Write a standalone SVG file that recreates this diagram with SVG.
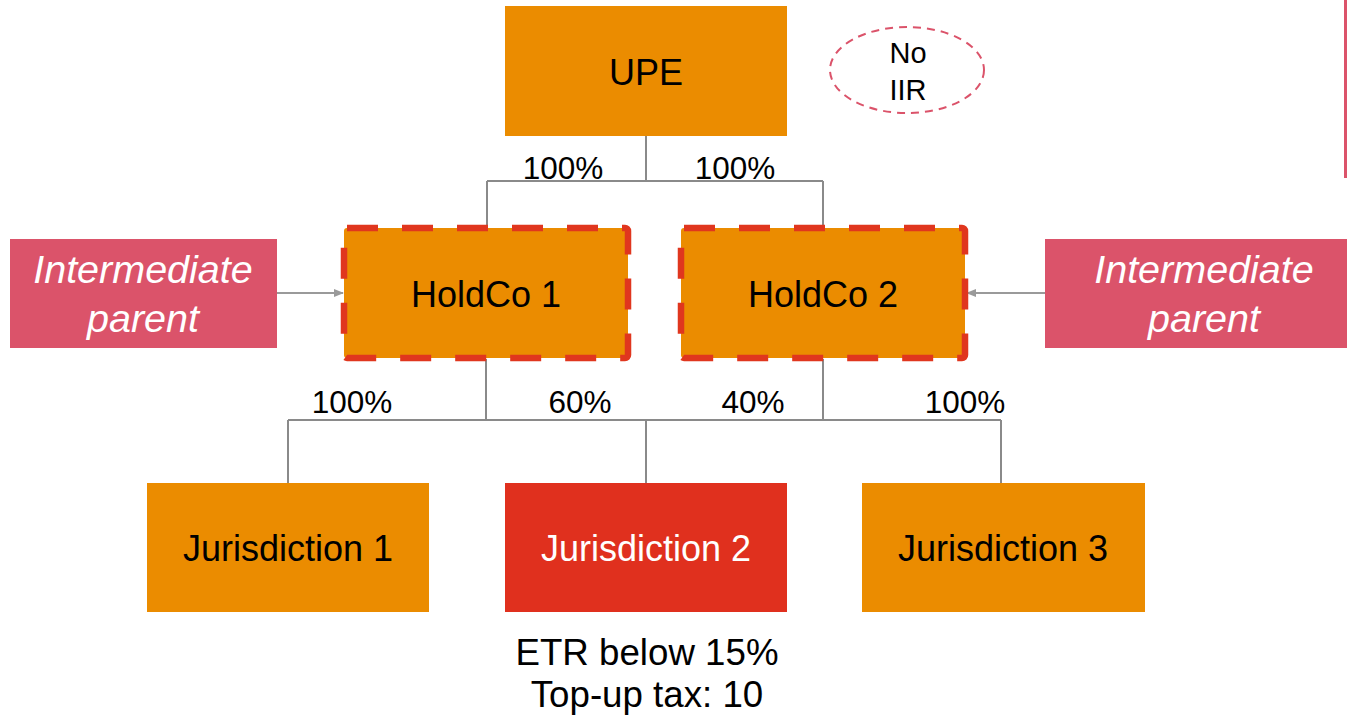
<svg xmlns="http://www.w3.org/2000/svg" width="1347" height="717" viewBox="0 0 1347 717">
<style>
text{font-family:"Liberation Sans",Arial,sans-serif;}
.box{fill:#EB8C00;}
.lbl{font-size:36px;fill:#000;text-anchor:middle;}
.pct{font-size:31.5px;fill:#000;text-anchor:middle;}
.hold{fill:#EB8C00;stroke:#E0361E;stroke-width:6.5;stroke-dasharray:31 24;}
.ip{fill:#DB536A;}
.ipt{font-size:39.5px;fill:#fff;font-style:italic;text-anchor:middle;}
.conn{fill:none;stroke:#8a8a8a;stroke-width:2;}
.arr{fill:none;stroke:#9a9a9a;stroke-width:1.8;marker-end:url(#ah);}
</style>
<defs>
<marker id="ah" markerWidth="10" markerHeight="8" refX="9" refY="4" orient="auto" markerUnits="userSpaceOnUse">
<path d="M0,0 L10,4 L0,8 Z" fill="#9a9a9a"/>
</marker>
</defs>
<rect width="1347" height="717" fill="#fff"/>
<g id="connectors">
<path class="conn" d="M646,136 V181 M487,181 H823 M487,181 V228 M823,181 V228"/>
<path class="conn" d="M486,359 V420 M823,359 V420 M288,420 H1001 M288,420 V483 M646,420 V483 M1001,420 V483"/>
<path class="arr" d="M277,293 H343"/>
<path class="arr" d="M1045,293 H967"/>
</g>
<g id="upe">
<rect class="box" x="505" y="6" width="282" height="130"/>
<text class="lbl" x="646" y="85">UPE</text>
</g>
<g id="noiir">
<ellipse cx="907" cy="70" rx="77" ry="43" fill="none" stroke="#DB536A" stroke-width="2" stroke-dasharray="8 6"/>
<text class="lbl" x="908" y="63" style="font-size:29px">No</text>
<text class="lbl" x="908" y="100" style="font-size:29px">IIR</text>
</g>
<g id="pct-labels">
<text class="pct" x="563" y="179">100%</text>
<text class="pct" x="735" y="179">100%</text>
<text class="pct" x="352" y="413">100%</text>
<text class="pct" x="580" y="413">60%</text>
<text class="pct" x="753" y="413">40%</text>
<text class="pct" x="965" y="413">100%</text>
</g>
<g id="holdco1">
<rect class="hold" x="344" y="228" width="284" height="130" rx="3"/>
<text class="lbl" x="486" y="307">HoldCo 1</text>
</g>
<g id="holdco2">
<rect class="hold" x="681" y="228" width="284" height="130" rx="3"/>
<text class="lbl" x="823" y="307">HoldCo 2</text>
</g>
<g id="ip-left">
<rect class="ip" x="10" y="239" width="267" height="109"/>
<text class="ipt" x="143" y="283">Intermediate</text>
<text class="ipt" x="143" y="332">parent</text>
</g>
<g id="ip-right">
<rect class="ip" x="1045" y="239" width="302" height="109"/>
<text class="ipt" x="1204" y="283">Intermediate</text>
<text class="ipt" x="1204" y="332">parent</text>
</g>
<g id="right-bar">
<rect x="1344" y="0" width="3" height="178" fill="#DB536A"/>
</g>
<g id="jur1">
<rect class="box" x="147" y="483" width="282" height="129"/>
<text class="lbl" x="288" y="561">Jurisdiction 1</text>
</g>
<g id="jur2">
<rect x="505" y="483" width="282" height="129" fill="#E0301E"/>
<text class="lbl" x="646" y="561" style="fill:#fff">Jurisdiction 2</text>
</g>
<g id="jur3">
<rect class="box" x="862" y="483" width="283" height="129"/>
<text class="lbl" x="1003" y="561">Jurisdiction 3</text>
</g>
<g id="note">
<text class="lbl" x="647" y="665" style="font-size:36.7px">ETR below 15%</text>
<text class="lbl" x="647" y="707" style="font-size:36.7px">Top-up tax: 10</text>
</g>
</svg>
